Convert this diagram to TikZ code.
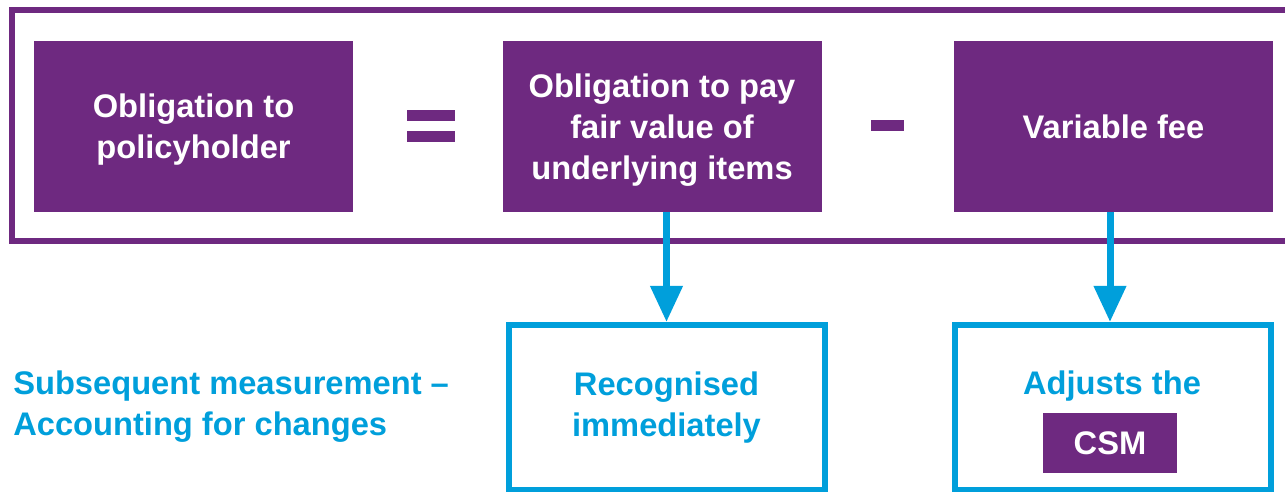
\documentclass[tikz,border=0pt]{standalone}
\usepackage{fontspec}
\setmainfont{Liberation Sans}
\usetikzlibrary{arrows.meta}
\definecolor{kpurple}{HTML}{6E2980}
\definecolor{kblue}{HTML}{009FDB}
\newcommand\tfont{\bfseries\fontsize{24.5}{30.75}\selectfont}
\begin{document}
\begin{tikzpicture}[x=0.75pt,y=-0.75pt,
  pbox/.style={fill=kpurple, text=white, font=\tfont, align=center,
    minimum width=239.25pt, minimum height=128.25pt, inner sep=0pt, text depth=0pt},
  bbox/.style={draw=kblue, line width=4.5pt, text=kblue, font=\tfont, align=center,
    minimum width=237pt, minimum height=123.4pt, inner sep=0pt},
  flow/.style={draw=kblue, line width=5.25pt, -{Triangle[width=23.25pt,length=27pt]}},
  opbar/.style={fill=kpurple}
]
\useasboundingbox (0,0) rectangle (1285,492);
\clip (0,0) rectangle (1285,492);
% outer frame (open to the right)
\draw[kpurple, line width=4.5pt] (1300,240.5) -- (11.5,240.5) -- (11.5,10) -- (1300,10);
% top boxes
\node[pbox] (ob1) at (193.5,126.5) {Obligation to\\policyholder};
\node[pbox] (ob2) at (662,126.5) {Obligation to pay\\fair value of\\underlying items};
\node[pbox] (fee) at (1113.5,126.5) {Variable fee};
% operators
\fill[opbar] (407,110) rectangle (455,121);
\fill[opbar] (407,131) rectangle (455,142);
\fill[opbar] (871,120) rectangle (904,131);
% bottom boxes
\node[bbox] (rec) at (666.5,407.25) {Recognised\\immediately};
\node[bbox] (adj) at (1113,407.25) {};
\node[text=kblue, font=\tfont, inner sep=0pt] (adjt) at (1112,386) {Adjusts the};
\node[fill=kpurple, text=white, font=\tfont, minimum width=100.5pt, minimum height=45pt, inner sep=0pt] (csm) at (1110,443) {CSM};
% left label
\node[anchor=west, align=left, text=kblue, font=\tfont, inner sep=0pt] (lbl) at (13,407) {Subsequent measurement –\\Accounting for changes};
% arrows
\draw[flow] (rec.north |- ob2.south) -- (rec.north);
\draw[flow] ([xshift=-2.25pt]adj.north |- fee.south) -- ([xshift=-2.25pt]adj.north);
\end{tikzpicture}
\end{document}
